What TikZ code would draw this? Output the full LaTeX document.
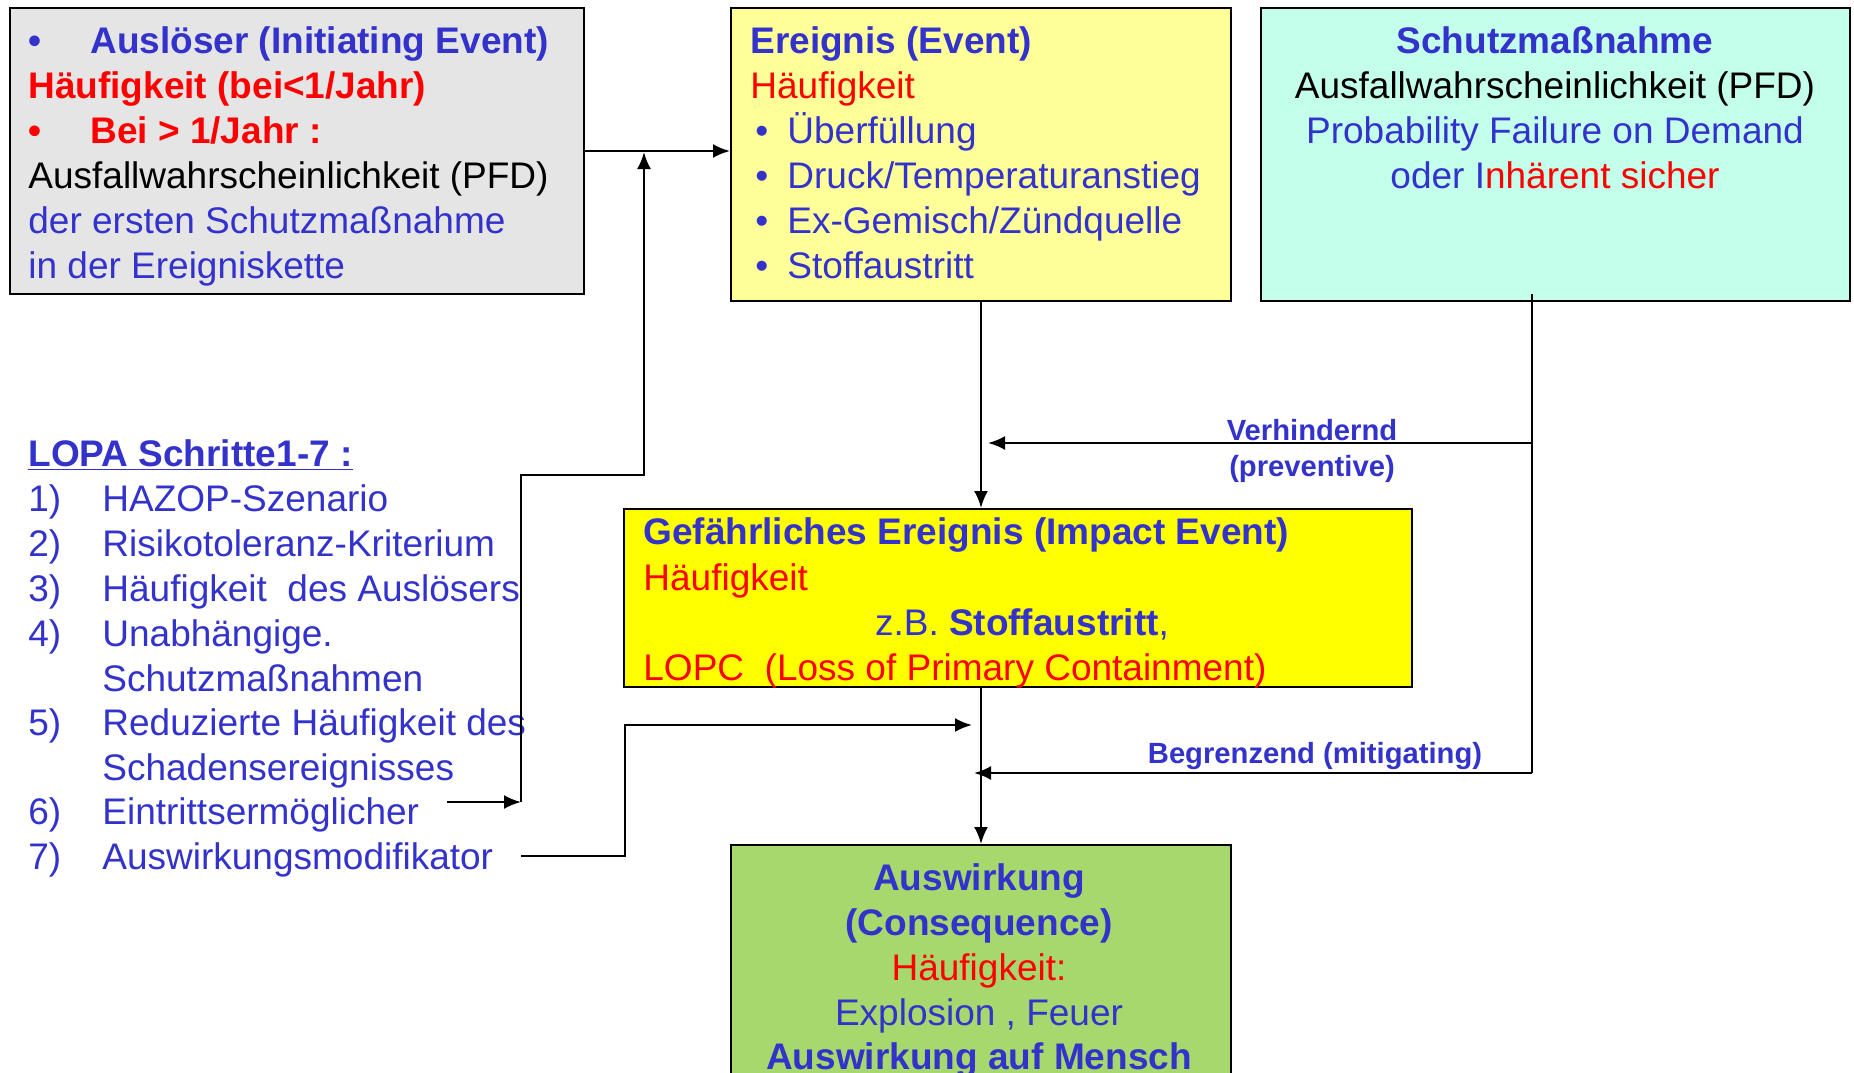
\documentclass[tikz,border=0pt]{standalone}
\usepackage{fontspec}
\setmainfont{Liberation Sans}
\usetikzlibrary{arrows.meta}
\definecolor{tblue}{RGB}{51,51,204}
\definecolor{tred}{RGB}{255,0,0}
\definecolor{fgray}{RGB}{229,229,229}
\definecolor{fyellowlight}{RGB}{255,255,153}
\definecolor{fcyan}{RGB}{196,255,236}
\definecolor{fyellow}{RGB}{255,255,0}
\definecolor{fgreen}{RGB}{166,216,110}
\newcommand{\bigtxt}{\fontsize{18.5pt}{22.5pt}\selectfont}
\newcommand{\smalltxt}{\fontsize{14.6pt}{17pt}\selectfont}
\tikzset{
  box/.style={draw=black, line width=1pt, inner sep=0pt, anchor=north west},
  txt/.style={inner sep=0pt, anchor=base west, font=\bigtxt},
  ctxt/.style={inner sep=0pt, anchor=base, font=\bigtxt},
  lbl/.style={inner sep=0pt, anchor=base, font=\smalltxt\bfseries, text=tblue},
  conn/.style={line width=1.2pt},
  arr/.style={conn, -{Latex[length=8.5pt,width=7pt]}},
}
\begin{document}
\begin{tikzpicture}[x=0.5pt, y=-0.5pt]
\useasboundingbox (0,0) rectangle (1854,1072);
\clip (0,0) rectangle (1854,1072);
\fill[white] (0,0) rectangle (1854,1072);

% boxes
\node[box, fill=fgray, minimum width=287pt, minimum height=143pt] (b1) at (9,7) {};
\node[box, fill=fyellowlight, minimum width=250pt, minimum height=146.5pt] (b2) at (730,7) {};
\node[box, fill=fcyan, minimum width=294.5pt, minimum height=146.5pt] (b3) at (1260,7) {};
\node[box, fill=fyellow, minimum width=394pt, minimum height=89pt] (b4) at (623,508) {};
\node[box, fill=fgreen, minimum width=250pt, minimum height=130pt] (b5) at (730,844) {};

% initiating event
\node[txt, text=tblue, font=\bigtxt\bfseries] (b1d1) at (28,53) {•};
\node[txt, text=tblue, font=\bigtxt\bfseries] (b1l1) at (90,53) {Auslöser (Initiating Event)};
\node[txt, text=tred, font=\bigtxt\bfseries] (b1l2) at (28,98) {Häufigkeit (bei<1/Jahr)};
\node[txt, text=tred, font=\bigtxt\bfseries] (b1d3) at (28,143) {•};
\node[txt, text=tred, font=\bigtxt\bfseries] (b1l3) at (90,143) {Bei > 1/Jahr :};
\node[txt] (b1l4) at (28,188) {Ausfallwahrscheinlichkeit (PFD)};
\node[txt, text=tblue] (b1l5) at (28,233) {der ersten Schutzmaßnahme};
\node[txt, text=tblue] (b1l6) at (28,278) {in der Ereigniskette};

% event
\node[txt, text=tblue, font=\bigtxt\bfseries] (b2l1) at (750,53) {Ereignis (Event)};
\node[txt, text=tred] (b2l2) at (750,98) {Häufigkeit};
\foreach \y/\t [count=\i] in {143/{Überfüllung}, 188/{Druck/Temperaturanstieg}, 233/{Ex-Gemisch/Zündquelle}, 278/{Stoffaustritt}}{
  \node[txt, text=tblue] (b2d\i) at (755,\y) {•};
  \node[txt, text=tblue] (b2i\i) at (787,\y) {\t};
}

% protection layer
\node[ctxt, text=tblue, font=\bigtxt\bfseries] (b3l1) at (1555,53) {Schutzmaßnahme};
\node[ctxt] (b3l2) at (1555,98) {Ausfallwahrscheinlichkeit (PFD)};
\node[ctxt, text=tblue] (b3l3) at (1555,143) {Probability Failure on Demand};
\node[ctxt, text=tblue] (b3l4) at (1555,188) {oder I\textcolor{tred}{nhärent sicher}};

% impact event
\node[txt, text=tblue, font=\bigtxt\bfseries] (b4l1) at (643,544) {Gefährliches Ereignis (Impact Event)};
\node[txt, text=tred] (b4l2) at (643,590) {Häufigkeit};
\node[ctxt, text=tblue] (b4l3) at (1022,635) {z.B. \textbf{Stoffaustritt},};
\node[txt, text=tred] (b4l4) at (643,680) {LOPC\ \ (Loss of Primary Containment)};

% consequence
\node[ctxt, text=tblue, font=\bigtxt\bfseries] (b5l1) at (979,890) {Auswirkung};
\node[ctxt, text=tblue, font=\bigtxt\bfseries] (b5l2) at (979,935) {(Consequence)};
\node[ctxt, text=tred] (b5l3) at (979,980) {Häufigkeit:};
\node[ctxt, text=tblue] (b5l4) at (979,1025) {Explosion , Feuer};
\node[ctxt, text=tblue, font=\bigtxt\bfseries] (b5l5) at (979,1069) {Auswirkung auf Mensch};

% LOPA steps
\node[txt, text=tblue, font=\bigtxt\bfseries] (lh) at (28,466) {\underline{LOPA Schritte1-7 :}};
\foreach \y/\n/\t [count=\i] in {
  511/1)/HAZOP-Szenario,
  556/2)/Risikotoleranz-Kriterium,
  601/3)/Häufigkeit\ \ des Auslösers,
  646/4)/Unabhängige.,
  691//Schutzmaßnahmen,
  735/5)/Reduzierte Häufigkeit des,
  780//Schadensereignisses,
  824/6)/Eintrittsermöglicher,
  869/7)/Auswirkungsmodifikator}{
  \node[txt, text=tblue] (ln\i) at (28,\y) {\n};
  \node[txt, text=tblue] (lt\i) at (102,\y) {\t};
}

% connector points
\coordinate (s6) at (447,802);
\coordinate (j6) at (521,802);
\coordinate (k6a) at (521,475);
\coordinate (k6b) at (644,475);
\coordinate (k6c) at (644,152);
\coordinate (s7) at (521,856);
\coordinate (k7a) at (625,856);
\coordinate (k7b) at (625,725);
\coordinate (t7) at (972,725);
\coordinate (p3) at (1532,294);
\coordinate (p3a) at (1532,443);
\coordinate (p3b) at (1532,773);
\coordinate (t3a) at (988,443);
\coordinate (t3b) at (974,773);

% connectors
\draw[arr] (b1.east) -- (b1.east -| b2.west);
\draw[arr] (s6) -- (j6);
\draw[arr] (j6) -- (k6a) -- (k6b) -- (k6c);
\draw[arr] (b2.south) -- (b2.south |- b4.north);
\draw[arr] (b4.south -| b2.south) -- (b5.north);
\draw[conn] (p3) -- (p3b);
\draw[arr] (p3a) -- (t3a);
\draw[arr] (p3b) -- (t3b);
\draw[arr] (s7) -- (k7a) -- (k7b) -- (t7);

% connector labels
\node[lbl] (lv1) at (1312,440) {Verhindernd};
\node[lbl] (lv2) at (1312,476) {(preventive)};
\node[lbl] (lm) at (1315,763) {Begrenzend (mitigating)};
\end{tikzpicture}
\end{document}
